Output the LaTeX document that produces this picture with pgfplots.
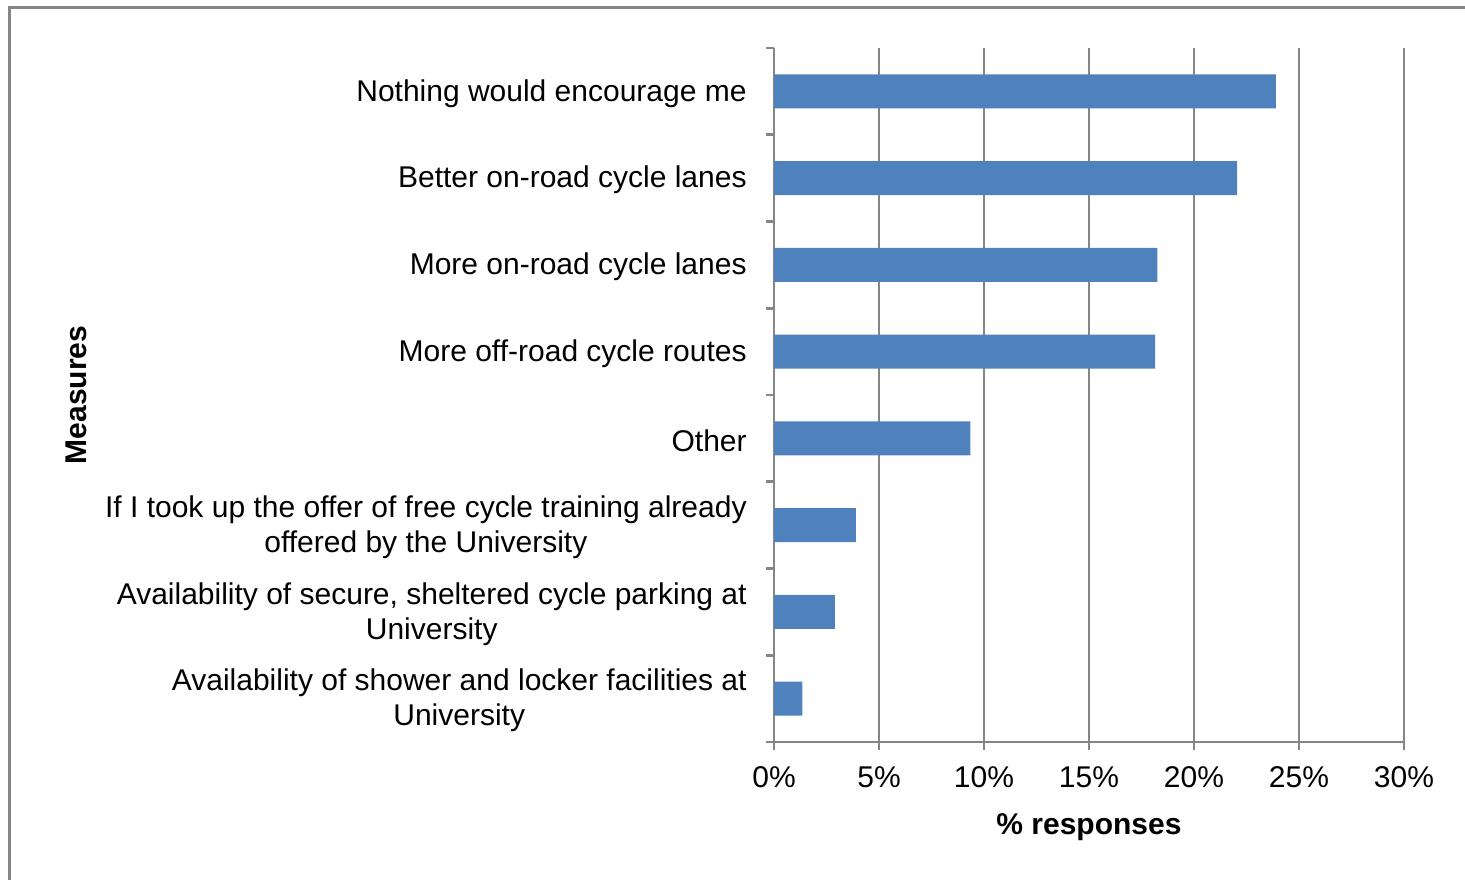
\documentclass[border=0pt]{standalone}
\usepackage{fontspec}
\setmainfont{Liberation Sans}
\usepackage{pgfplots}
\pgfplotsset{compat=1.18}
\definecolor{barblue}{HTML}{4F81BD}
\definecolor{gridgray}{HTML}{868686}
\newcommand{\lblfont}{\fontsize{15}{17.5}\selectfont}

\begin{document}
\begin{tikzpicture}
\path[use as bounding box] (0,0) rectangle (732.5pt,440pt);
% outer chart frame (only left and top edges are in view)
\draw[gridgray, line width=1.5pt] (4.5pt,0) -- (4.5pt,436pt) -- (732.5pt,436pt);
\begin{axis}[
  at={(387pt,69pt)}, anchor=south west,
  scale only axis, width=315pt, height=347pt,
  xbar, bar width=17pt,
  xmin=0, xmax=30, ymin=-0.5, ymax=7.5, y dir=reverse,
  axis x line*=bottom, axis y line*=left,
  axis line style={draw=gridgray, line width=1.4pt},
  tick align=outside, major tick length=4pt,
  major tick style={draw=gridgray, line width=1.4pt},
  xtick={0,5,...,30},
  xticklabel={\pgfmathprintnumber{\tick}\%},
  /pgf/number format/assume math mode=true,
  xticklabel style={font=\lblfont, inner sep=0pt, anchor=north, yshift=-8pt},
  ytick={-0.5,0.5,...,7.5},
  yticklabel={\relax},
  extra y ticks={0,1,2,3,4,5,6,7},
  extra y tick labels={
    {Nothing would encourage me},
    {Better on-road cycle lanes},
    {More on-road cycle lanes},
    {More off-road cycle routes},
    {Other},
    {If I took up the offer of free cycle training already\\offered by the University},
    {Availability of secure, sheltered cycle parking at\\University},
    {Availability of shower and locker facilities at\\University}},
  extra y tick style={major tick length=0pt, major tick style={draw=none},
    yticklabel style={font=\lblfont, align=center, inner sep=0pt, anchor=east,
      xshift=-13.5pt, yshift=-1pt}},
  xmajorgrids,
  major grid style={draw=gridgray, line width=1.4pt},
  xlabel={\% responses},
  xlabel style={font=\lblfont\bfseries, at={(axis description cs:0.5,0)}, anchor=base, yshift=-46pt},
  ylabel={Measures},
  ylabel style={font=\lblfont\bfseries, at={(axis description cs:-1.092,0.5)}, anchor=base},
]
\addplot[fill=barblue, draw=none] coordinates {
  (23.9,0) (22.05,1) (18.25,2) (18.15,3) (9.35,4) (3.9,5) (2.9,6) (1.35,7)
};
\end{axis}
\end{tikzpicture}
\end{document}
